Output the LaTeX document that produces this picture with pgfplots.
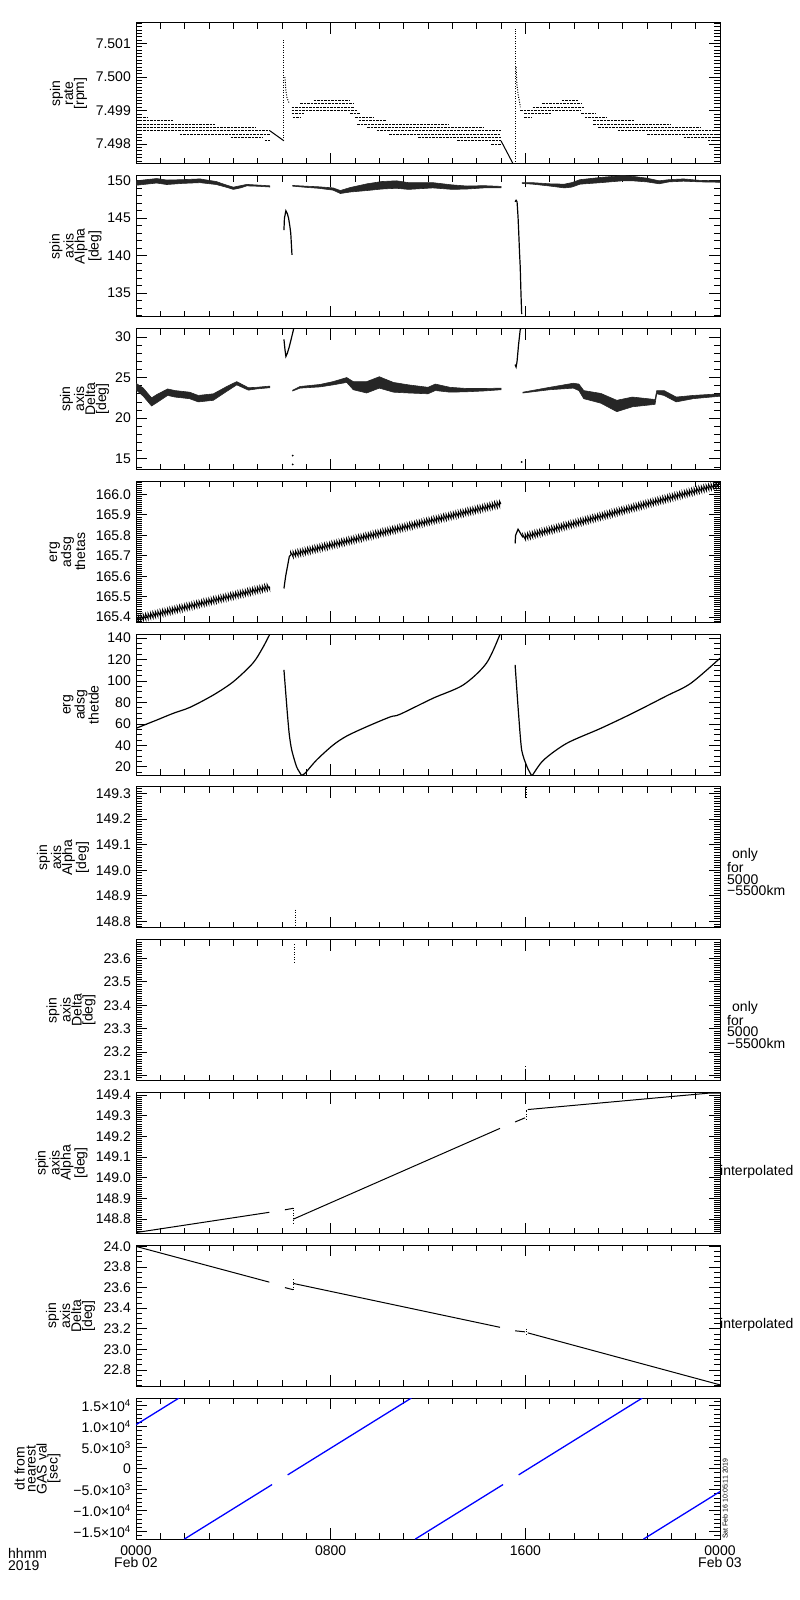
\documentclass[border=0pt]{standalone}
\usepackage{fontspec}
\setmainfont{Liberation Sans}
\usepackage{pgfplots}
\pgfplotsset{compat=1.18}
\usetikzlibrary{decorations.pathmorphing}
\pgfplotsset{
  panel/.style={
    scale only axis, width=584pt, height=141pt,
    xmin=0, xmax=24,
    xtick={0,8,16,24}, minor xtick={1,2,...,23}, xticklabels={},
    tick align=inside,
    major tick length=11pt, minor tick length=6pt,
    axis line style={line width=1pt},
    tick style={black, line width=0.8pt},
    tick label style={font=\fontsize{14}{14}\selectfont},
    yticklabel style={inner sep=0pt, xshift=-5pt},
    ylabel style={at={(axis description cs:0,0.5)}, anchor=center, align=center, font=\fontsize{14}{11}\selectfont},
    scaled y ticks=false,
    clip mode=individual,
    unbounded coords=jump,
    anchor=north west,
  },
  lev/.style={black, line width=1pt, dash pattern=on 2.5pt off 1pt},
  band/.style={fill=black!85, draw=black!85, line width=0.6pt},
  crv/.style={black, line width=1.2pt},
  dots/.style={black, line width=1pt, dash pattern=on 1pt off 1.5pt},
}
\begin{document}
\begin{tikzpicture}
\path[use as bounding box] (0pt,0pt) rectangle (800pt,1600pt);

% ---------- panel 1: spin rate
\begin{axis}[panel, at={(136pt,1577pt)},
  ymin=7.49741, ymax=7.50161,
  ytick={7.498,7.499,7.500,7.501}, yticklabels={7.498,7.499,7.500,7.501},
  minor ytick={7.4975,7.4976,7.4977,7.4978,7.4979,7.4981,7.4982,7.4983,7.4984,7.4985,7.4986,7.4987,7.4988,7.4989,7.4991,7.4992,7.4993,7.4994,7.4995,7.4996,7.4997,7.4998,7.4999,7.5001,7.5002,7.5003,7.5004,7.5005,7.5006,7.5007,7.5008,7.5009,7.5011,7.5012,7.5013,7.5014,7.5015,7.5016},
  ylabel={spin\\rate\\{[rpm]}}, ylabel style={yshift=67.5pt}]
\addplot[lev] coordinates {(7.3,7.4993)(8.8,7.4993)(8.8,nan)(17.5,7.4993)(18.2,7.4993)};
\addplot[lev] coordinates {(6.75,7.4992)(8.95,7.4992)(8.95,nan)(16.7,7.4992)(18.3,7.4992)};
\addplot[lev] coordinates {(6.4,7.4991)(8.95,7.4991)(8.95,nan)(16.3,7.4991)(18.4,7.4991)};
\addplot[lev] coordinates {(6.4,7.4990)(9.1,7.4990)(9.1,nan)(15.8,7.4990)(18.3,7.4990)};
\addplot[lev] coordinates {(6.4,7.4989)(6.9,7.4989)(6.9,nan)(8.8,7.4989)(9.2,7.4989)(9.2,nan)(15.95,7.4989)(17.1,7.4989)(17.1,nan)(18.3,7.4989)(18.9,7.4989)};
\addplot[lev] coordinates {(0,7.4988)(0.45,7.4988)(0.45,nan)(6.45,7.4988)(6.75,7.4988)(6.75,nan)(9.0,7.4988)(9.75,7.4988)(9.75,nan)(15.95,7.4988)(16.25,7.4988)(16.25,nan)(18.45,7.4988)(19.35,7.4988)};
\addplot[lev] coordinates {(0,7.4987)(1.5,7.4987)(1.5,nan)(9.15,7.4987)(10.3,7.4987)(10.3,nan)(18.8,7.4987)(20.5,7.4987)};
\addplot[lev] coordinates {(0,7.4986)(3.25,7.4986)(3.25,nan)(9.1,7.4986)(12.85,7.4986)(12.85,nan)(18.8,7.4986)(22.0,7.4986)};
\addplot[lev] coordinates {(0,7.4985)(4.9,7.4985)(4.9,nan)(9.5,7.4985)(14.3,7.4985)(14.3,nan)(19.0,7.4985)(23.2,7.4985)};
\addplot[lev] coordinates {(0,7.4984)(5.5,7.4984)(5.5,nan)(9.9,7.4984)(15.0,7.4984)(15.0,nan)(19.8,7.4984)(24,7.4984)};
\addplot[lev] coordinates {(1.8,7.4983)(5.5,7.4983)(5.5,nan)(10.4,7.4983)(15.0,7.4983)(15.0,nan)(21.0,7.4983)(24,7.4983)};
\addplot[lev] coordinates {(3.9,7.4982)(5.2,7.4982)(5.2,nan)(11.6,7.4982)(15.0,7.4982)(15.0,nan)(22.5,7.4982)(24,7.4982)};
\addplot[lev] coordinates {(5.3,7.4981)(5.5,7.4981)(5.5,nan)(13.2,7.4981)(15.0,7.4981)(15.0,nan)(23.5,7.4981)(24,7.4981)};
\addplot[lev] coordinates {(14.6,7.4980)(15.0,7.4980)};
\addplot[crv, line width=1pt] coordinates {(5.5,7.4984)(6.08,7.4981)};
\addplot[crv, line width=1pt] coordinates {(15.0,7.4981)(15.53,7.49737)};
\addplot[dots] coordinates {(6.08,7.4981)(6.08,7.50111)};
\addplot[dots] coordinates {(15.58,7.4974)(15.58,7.50143)};
\addplot[dots] coordinates {(6.12,7.5000)(6.16,7.4996)(6.2,7.4994)(6.25,7.4993)(6.3,7.4992)};
\addplot[dots] coordinates {(15.62,7.5003)(15.65,7.4998)(15.7,7.4995)(15.75,7.4993)(15.8,7.4991)};
\end{axis}

% ---------- panel 2: spin axis Alpha
\begin{axis}[panel, at={(136pt,1424.2pt)},
  ymin=131.83, ymax=150.67,
  ytick={135,140,145,150}, yticklabels={135,140,145,150},
  minor ytick={132,133,...,150},
  ylabel={spin\\axis\\Alpha\\{[deg]}}, ylabel style={yshift=60.5pt}]
\addplot[band] coordinates {(0,150.0)(0.85,150.3)(1.26,150.1)(1.9,150.15)(2.63,150.25)(3.3,149.9)(3.7,149.45)(4.0,149.15)(4.3,149.35)(4.55,149.52)(5.0,149.43)(5.5,149.33)
 (5.5,149.17)(5.0,149.27)(4.55,149.32)(4.3,149.05)(4.0,148.85)(3.7,149.15)(3.3,149.5)(2.63,149.75)(1.9,149.65)(1.26,149.5)(0.85,149.7)(0,149.4)} -- cycle;
\addplot[band] coordinates {(6.44,149.38)(7.0,149.28)(7.5,149.2)(8.1,149.05)(8.4,148.7)(8.8,149.1)(9.5,149.6)(10.1,149.9)(10.7,150.0)(11.2,149.75)(12.2,149.75)(13.0,149.45)(13.6,149.3)(14.3,149.35)(15.0,149.25)
 (15.0,149.05)(14.3,149.05)(13.6,148.9)(13.0,148.85)(12.2,149.05)(11.2,148.85)(10.7,149.0)(10.1,148.9)(9.5,148.7)(8.8,148.5)(8.4,148.3)(8.1,148.75)(7.5,149.0)(7.0,149.12)(6.44,149.28)} -- cycle;
\addplot[band] coordinates {(15.87,149.75)(16.3,149.75)(17.0,149.6)(17.6,149.55)(17.9,149.75)(18.25,150.15)(19.1,150.45)(20.0,150.7)(20.4,150.6)(21.0,150.35)(21.5,150.0)(21.9,150.15)(22.5,150.25)(23.2,150.05)(24,150.0)
 (24,149.8)(23.2,149.85)(22.5,149.95)(21.9,149.85)(21.5,149.6)(21.0,149.85)(20.4,150.0)(20.0,150.0)(19.1,149.75)(18.25,149.55)(17.9,149.15)(17.6,149.05)(17.0,149.3)(16.3,149.55)(15.87,149.65)} -- cycle;
\addplot[crv] coordinates {(6.08,143.4)(6.1,145.0)(6.16,146.0)(6.22,145.6)(6.27,145.0)(6.32,144.0)(6.36,143.0)(6.41,140.1)};
\addplot[crv] coordinates {(15.58,147.2)(15.62,147.4)(15.66,147.2)(15.7,145.2)(15.73,143.0)(15.76,140.5)(15.79,138.5)(15.82,135)(15.85,132.2)};
\end{axis}

% ---------- panel 3: spin axis Delta
\begin{axis}[panel, at={(136pt,1271.4pt)},
  ymin=13.67, ymax=31.03,
  ytick={15,20,25,30}, yticklabels={15,20,25,30},
  minor ytick={14,15,...,31},
  ylabel={spin\\axis\\Delta\\{[deg]}}, ylabel style={yshift=51.5pt}]
\addplot[band] coordinates {(0,24.3)(0.3,23.7)(0.64,22.5)(0.85,22.9)(1.3,23.6)(1.6,23.4)(2.2,23.2)(2.56,22.8)(3.18,23.0)(3.73,23.9)(4.14,24.5)(4.62,23.75)(4.96,23.8)(5.5,23.95)
 (5.5,23.75)(4.96,23.6)(4.62,23.45)(4.14,24.1)(3.73,23.3)(3.18,22.2)(2.56,22.0)(2.2,22.4)(1.6,22.6)(1.3,22.8)(0.85,21.9)(0.64,21.5)(0.3,22.7)(0,23.5)} -- cycle;
\addplot[band] coordinates {(6.44,23.45)(6.74,23.9)(7.56,24.15)(8.1,24.5)(8.66,25.0)(8.93,24.5)(9.48,24.5)(10.0,25.1)(10.58,24.4)(11.2,24.1)(12.0,23.8)(12.3,24.2)(12.9,23.8)(13.6,23.65)(14.3,23.65)(15.0,23.7)
 (15.0,23.5)(14.3,23.35)(13.6,23.25)(12.9,23.2)(12.3,23.4)(12.0,23.0)(11.2,23.1)(10.58,23.2)(10.0,23.7)(9.48,23.1)(8.93,23.5)(8.66,24.4)(8.1,24.1)(7.56,23.85)(6.74,23.7)(6.44,23.35)} -- cycle;
\addplot[band] coordinates {(15.9,23.2)(17.0,23.8)(17.97,24.3)(18.2,24.2)(18.4,23.4)(19.1,23.05)(19.76,22.2)(20.4,22.6)(21.33,22.3)(21.4,23.4)(21.7,23.4)(22.2,22.6)(22.9,22.8)(24,23.0)
 (24,22.7)(22.9,22.4)(22.2,22.0)(21.7,22.8)(21.4,23.0)(21.33,21.7)(20.4,21.4)(19.76,20.8)(19.1,21.85)(18.4,22.4)(18.2,23.4)(17.97,23.7)(17.0,23.5)(15.9,23.1)} -- cycle;
\addplot[crv] coordinates {(6.08,29.7)(6.12,28.5)(6.16,27.6)(6.22,28.0)(6.3,28.8)(6.44,30.5)(6.48,31.03)};
\addplot[crv] coordinates {(15.58,26.6)(15.62,26.3)(15.66,27.0)(15.72,29.0)(15.79,30.9)(15.82,31.03)};
\addplot[only marks, mark=*, mark size=0.7pt, black] coordinates {(6.44,15.4)(6.44,14.3)(15.85,14.6)};
\end{axis}

% ---------- panel 4: erg adsg thetas
\begin{axis}[panel, at={(136pt,1118.6pt)},
  ymin=165.374, ymax=166.064,
  ytick={165.4,165.5,165.6,165.7,165.8,165.9,166.0}, yticklabels={165.4,165.5,165.6,165.7,165.8,165.9,166.0},
  minor ytick={165.38,165.39,...,166.06},
  ylabel={erg\\adsg\\thetas}, ylabel style={yshift=68.5pt}]
\addplot[black, line width=0.9pt, decorate, decoration={zigzag, segment length=2.5pt, amplitude=3pt}] coordinates {(0,165.39)(5.5,165.548)};
\addplot[crv] coordinates {(6.08,165.54)(6.15,165.6)(6.3,165.696)(6.36,165.704)};
\addplot[black, line width=0.9pt, decorate, decoration={zigzag, segment length=2.5pt, amplitude=3pt}] coordinates {(6.36,165.704)(15.0,165.955)};
\addplot[crv] coordinates {(15.58,165.76)(15.6,165.80)(15.7,165.83)(15.9,165.79)};
\addplot[black, line width=0.9pt, decorate, decoration={zigzag, segment length=2.5pt, amplitude=3pt}] coordinates {(15.9,165.79)(24,166.05)};
\end{axis}

% ---------- panel 5: erg adsg thetde
\begin{axis}[panel, at={(136pt,965.8pt)},
  ymin=12.2, ymax=143.7,
  ytick={20,40,60,80,100,120,140}, yticklabels={20,40,60,80,100,120,140},
  minor ytick={15,20,...,140},
  ylabel={erg\\adsg\\thetde}, ylabel style={yshift=55pt}]
\addplot[crv, smooth, tension=0.5] coordinates {(0,55.9)(0.44,59.9)(0.85,63.6)(1.53,69.9)(2.22,75.5)(3.18,87)(4.0,99.4)(4.8,116.6)(5.2,130.7)(5.5,143.7)};
\addplot[crv, smooth, tension=0.4] coordinates {(6.08,110.4)(6.22,69.9)(6.3,50)(6.4,35.6)(6.6,20)(6.8,12.2)};
\addplot[crv, smooth, tension=0.5] coordinates {(6.8,12.2)(6.94,13.8)(7.42,26.3)(8.1,40.3)(8.66,48.7)(9.48,57.4)(10.44,66.5)(10.85,69)(12.2,83.9)(13.45,96.4)(14.4,116.6)(14.96,143.7)};
\addplot[crv, smooth, tension=0.4] coordinates {(15.58,115)(15.72,69.9)(15.85,35.6)(16.07,20)(16.25,12.2)};
\addplot[crv, smooth, tension=0.5] coordinates {(16.25,12.2)(16.3,12.5)(16.75,26.3)(17.7,41.9)(19.1,55.9)(20.4,69.9)(21.8,86.1)(22.8,97.9)(24,121.3)};
\end{axis}

% ---------- panel 6: spin axis Alpha (5000-5500 km)
\begin{axis}[panel, at={(136pt,813pt)},
  ymin=148.774, ymax=149.326,
  ytick={148.8,148.9,149.0,149.1,149.2,149.3}, yticklabels={148.8,148.9,149.0,149.1,149.2,149.3},
  minor ytick={148.78,148.79,...,149.32},
  ylabel={spin\\axis\\Alpha\\{[deg]}}, ylabel style={yshift=73pt}]
\addplot[dots] coordinates {(6.57,148.846)(6.57,148.783)};
\addplot[dots] coordinates {(16.03,149.326)(16.03,149.28)};
\end{axis}

% ---------- panel 7: spin axis Delta (5000-5500 km)
\begin{axis}[panel, at={(136pt,660.2pt)},
  ymin=23.077, ymax=23.68,
  ytick={23.1,23.2,23.3,23.4,23.5,23.6}, yticklabels={23.1,23.2,23.3,23.4,23.5,23.6},
  minor ytick={23.08,23.09,...,23.68},
  ylabel={spin\\axis\\Delta\\{[deg]}}, ylabel style={yshift=65pt}]
\addplot[dots] coordinates {(6.52,23.66)(6.52,23.576)};
\addplot[dots] coordinates {(16.0,23.14)(16.0,23.08)};
\end{axis}

% ---------- panel 8: spin axis Alpha interpolated
\begin{axis}[panel, at={(136pt,507.4pt)},
  ymin=148.73, ymax=149.412,
  ytick={148.8,148.9,149.0,149.1,149.2,149.3,149.4}, yticklabels={148.8,148.9,149.0,149.1,149.2,149.3,149.4},
  minor ytick={148.73,148.74,...,149.41},
  ylabel={spin\\axis\\Alpha\\{[deg]}}, ylabel style={yshift=74.5pt}]
\addplot[black, line width=1pt] coordinates {(0,148.735)(5.48,148.833)};
\addplot[black, line width=1pt] coordinates {(6.12,148.845)(6.45,148.852)};
\addplot[dots] coordinates {(6.47,148.855)(6.47,148.78)};
\addplot[black, line width=1pt] coordinates {(6.47,148.80)(14.96,149.239)};
\addplot[black, line width=1pt] coordinates {(15.58,149.27)(15.99,149.29)};
\addplot[dots] coordinates {(16.03,149.28)(16.03,149.33)};
\addplot[black, line width=1pt] coordinates {(16.1,149.33)(23.6,149.41)(24,149.41)};
\end{axis}

% ---------- panel 9: spin axis Delta interpolated
\begin{axis}[panel, at={(136pt,354.6pt)},
  ymin=22.64, ymax=24.01,
  ytick={22.8,23.0,23.2,23.4,23.6,23.8,24.0}, yticklabels={22.8,23.0,23.2,23.4,23.6,23.8,24.0},
  minor ytick={22.65,22.70,...,24.0},
  ylabel={spin\\axis\\Delta\\{[deg]}}, ylabel style={yshift=65.5pt}]
\addplot[black, line width=1pt] coordinates {(0,24.0)(5.48,23.653)};
\addplot[black, line width=1pt] coordinates {(6.12,23.60)(6.45,23.58)};
\addplot[dots] coordinates {(6.47,23.68)(6.47,23.58)};
\addplot[black, line width=1pt] coordinates {(6.47,23.64)(14.96,23.214)};
\addplot[black, line width=1pt] coordinates {(15.58,23.18)(15.99,23.17)};
\addplot[dots] coordinates {(16.03,23.20)(16.03,23.15)};
\addplot[black, line width=1pt] coordinates {(16.1,23.16)(24,22.655)};
\end{axis}

% ---------- panel 10: dt from nearest GAS val
\begin{axis}[panel, at={(136pt,201.8pt)},
  ymin=-16810, ymax=16760,
  ytick={-15000,-10000,-5000,0,5000,10000,15000},
  yticklabels={−1.5×10\textsuperscript{4},−1.0×10\textsuperscript{4},−5.0×10\textsuperscript{3},0,5.0×10\textsuperscript{3},1.0×10\textsuperscript{4},1.5×10\textsuperscript{4}},
  minor ytick={-16000,-15000,...,16000},
  xticklabels={{0000\\Feb 02},{0800},{1600},{0000\\Feb 03}},
  xticklabel style={align=center, font=\fontsize{14}{12}\selectfont, yshift=-3pt},
  ylabel={dt from\\nearest\\GAS val\\{[sec]}}, ylabel style={yshift=98.5pt}]
\addplot[blue, line width=1.3pt] coordinates {(0,10440)(1.767,16800)(1.767,nan)
 (1.983,-16800)(5.594,-3800)(5.594,nan)(6.233,-1500)(11.317,16800)(11.317,nan)
 (11.473,-16800)(15.084,-3800)(15.084,nan)(15.723,-1500)(20.807,16800)(20.807,nan)
 (20.853,-16800)(24,-5472)};
\end{axis}

% ---------- free texts
\node[anchor=north west, inner sep=0pt, align=left, font=\fontsize{14}{12}\selectfont] at (8pt,52pt) {hhmm\\2019};
\node[anchor=north west, inner sep=0pt, align=left, font=\fontsize{14}{11.7}\selectfont] at (727pt,752pt) {\hspace*{5pt}only\\for\\5000\\−5500km};
\node[anchor=north west, inner sep=0pt, align=left, font=\fontsize{14}{11.7}\selectfont] at (727pt,599.2pt) {\hspace*{5pt}only\\for\\5000\\−5500km};
\node[anchor=base west, inner sep=0pt, font=\fontsize{14}{14}\selectfont] at (720pt,424pt) {interpolated};
\node[anchor=base west, inner sep=0pt, font=\fontsize{14}{14}\selectfont] at (720pt,271.2pt) {interpolated};
\node[anchor=base west, rotate=90, inner sep=0pt, font=\fontsize{7}{7}\selectfont] at (727.5pt,61pt) {Sat Feb 16 10:05:11 2019};
\end{tikzpicture}
\end{document}
